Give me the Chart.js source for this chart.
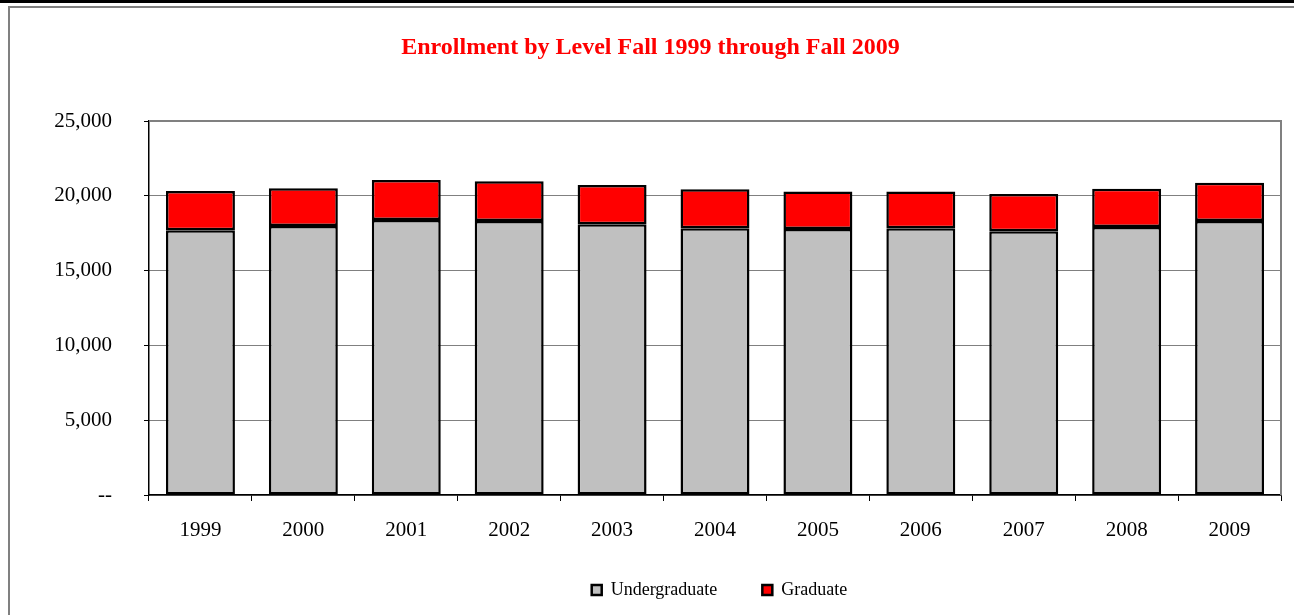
<!DOCTYPE html>
<html>
<head>
<meta charset="utf-8">
<script src="https://cdn.jsdelivr.net/npm/chart.js@4.4.0/dist/chart.umd.min.js"></script>
<style>
  body { margin: 0; background: #fff; overflow: hidden; }
  #topline { position: absolute; left: 0; top: 0; width: 1294px; height: 3px; background: #000; }
  #frame { position: absolute; left: 8px; top: 6px; width: 1300px; height: 620px; border: 2px solid #808080; box-sizing: border-box; }
  #myChart { position: absolute; left: 0; top: 0; }
</style>
</head>
<body>
<div id="topline"></div>
<div id="frame"></div>
<canvas id="myChart" width="1294" height="615"></canvas>
<script>
const years = ['1999', '2000', '2001', '2002', '2003', '2004', '2005', '2006', '2007', '2008', '2009'];
const undergraduate = [17690, 17980, 18380, 18320, 18100, 17830, 17780, 17830, 17630, 17910, 18320];
const graduate = [2630, 2520, 2670, 2650, 2620, 2600, 2500, 2450, 2490, 2560, 2560];
const yTicks = [0, 5000, 10000, 15000, 20000, 25000];

const serif = 'Liberation Serif';

const plotBorder = {
  id: 'plotBorder',
  afterLayout(chart) {
    // legend and title sit right of centre in the original
    const lg = chart.legend;
    lg.left += 79; lg.right += 79;
    lg.top -= 7; lg.bottom = chart.height;
    const t = chart.titleBlock;
    t.left += 10; t.right += 10;
  },
  // gray border on top and right of the plot area
  afterDraw(chart) {
    const a = chart.chartArea;
    const c = chart.ctx;
    c.save();
    c.strokeStyle = '#808080';
    c.lineWidth = 2;
    c.beginPath();
    c.moveTo(a.left, a.top);
    c.lineTo(a.right, a.top);
    c.lineTo(a.right, a.bottom);
    c.stroke();
    c.restore();
  }
};

new Chart(document.getElementById('myChart'), {
  type: 'bar',
  data: {
    labels: years,
    datasets: [{
      label: 'Undergraduate',
      data: undergraduate,
      backgroundColor: '#C0C0C0',
      borderColor: '#000',
      borderWidth: 2.5,
      borderSkipped: false
    }, {
      label: 'Graduate',
      data: graduate,
      backgroundColor: '#FF0000',
      borderColor: '#000',
      borderWidth: 2.5,
      borderSkipped: false
    }]
  },
  options: {
    responsive: false,
    animation: false,
    categoryPercentage: 1,
    barPercentage: 0.67,
    layout: { padding: { left: 0, right: 13, top: 0, bottom: 12 } },
    plugins: {
      title: {
        display: true,
        text: 'Enrollment by Level Fall 1999 through Fall 2009',
        color: '#FF0000',
        font: { family: serif, size: 24, weight: 'bold', lineHeight: 1.2 },
        padding: { top: 33, bottom: 59.2 }
      },
      legend: {
        position: 'bottom',
        maxHeight: 60,
        labels: {
          color: '#000',
          font: { family: serif, size: 18 },
          boxWidth: 10,
          boxHeight: 10,
          padding: 45
        }
      },
      tooltip: { enabled: false }
    },
    scales: {
      x: {
        stacked: true,
        afterFit(s) { s.height = 48; },
        border: { color: '#000', width: 1.5 },
        grid: {
          drawOnChartArea: false,
          tickColor: '#000',
          tickLength: 6
        },
        ticks: {
          color: '#000',
          padding: 17,
          font: { family: serif, size: 21 }
        }
      },
      y: {
        stacked: true,
        min: 0,
        max: 25000,
        afterFit(s) { s.width = 149; },
        afterBuildTicks(s) { s.ticks = yTicks.map(v => ({ value: v })); },
        border: { color: '#000', width: 1.5, dash: [1, 1] },
        grid: {
          color: '#000',
          tickColor: '#000',
          tickLength: 5,
          tickBorderDash: []
        },
        ticks: {
          color: '#000',
          padding: 32,
          font: { family: serif, size: 21 },
          callback: v => v === 0 ? '--' : v.toLocaleString('en-US')
        }
      }
    }
  },
  plugins: [plotBorder]
});
</script>
</body>
</html>
